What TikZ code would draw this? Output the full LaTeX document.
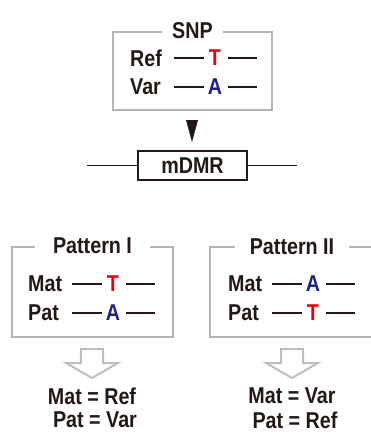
\documentclass[tikz,border=0pt]{standalone}
\usepackage{fontspec}
\setmainfont[FakeStretch=0.86]{Liberation Sans}
\definecolor{boxgray}{HTML}{B5B5B5}
\definecolor{arrowgray}{HTML}{BEBEBE}
\definecolor{ink}{HTML}{231815}
\definecolor{allelered}{HTML}{E60012}
\definecolor{alleleblue}{HTML}{1D2088}
\begin{document}
\begin{tikzpicture}[x=1bp,y=-1bp,
  every node/.style={font=\fontsize{23}{26}\selectfont\bfseries, inner sep=0pt, text=ink},
  graybox/.style={draw=boxgray, line width=2.4bp},
  boxtitle/.style={fill=white, inner xsep=#1, inner ysep=2bp},
  bondline/.style={draw=ink, line width=1.4bp},
  hollow/.style={draw=arrowgray, line width=2bp, line join=miter},
  refallele/.style={text=allelered},
  varallele/.style={text=alleleblue}
]
\useasboundingbox (0,0) rectangle (371,432);
\clip (0,0) rectangle (371,432);

% allele pair: letter node with a short bond on each side
\newcommand{\allelerow}[4]{%
  \node[#3] (#1) at #2 {#4};
  \draw[bondline] ([xshift=-41bp]#1.center) -- ([xshift=-11bp]#1.center);
  \draw[bondline] ([xshift=13bp]#1.center) -- ([xshift=42bp]#1.center);}

% ---- SNP box ----
\node[graybox, minimum width=159bp, minimum height=78bp] (snp) at (192.5,71) {};
\node[boxtitle=10bp] (snptitle) at (snp.north) {SNP};
\node[anchor=west] (reflab) at (130,58) {Ref};
\node[anchor=west] (varlab) at (130,87) {Var};
\allelerow{snpT}{(215,58)}{refallele}{T}
\allelerow{snpA}{(215,87)}{varallele}{A}

% ---- arrow into the region ----
\coordinate (tritop) at (192,120);
\fill[ink] ([xshift=-6bp]tritop) -- ([xshift=6bp]tritop) -- ([yshift=-22bp]tritop) -- cycle;

% ---- mDMR ----
\node[draw=ink, line width=1.2bp, minimum width=109bp, minimum height=29bp] (mdmr) at (192.5,165.5) {mDMR};
\coordinate (dnaL) at (87,165.5);
\coordinate (dnaR) at (297,165.5);
\draw[ink, line width=1.2bp] (mdmr.west) -- (dnaL);
\draw[ink, line width=1.2bp] (mdmr.east) -- (dnaR);

% ---- Pattern I ----
\node[graybox, minimum width=161bp, minimum height=90bp] (pat1) at (92.5,292) {};
\node[boxtitle=18bp] (pat1title) at (pat1.north) {Pattern I};
\node[anchor=west] (mat1) at (28,284) {Mat};
\node[anchor=west] (pa1) at (28,313) {Pat};
\allelerow{p1T}{(113,284)}{refallele}{T}
\allelerow{p1A}{(113,313)}{varallele}{A}

% ---- Pattern II (runs past the right edge) ----
\node[graybox, minimum width=190bp, minimum height=90bp] (pat2) at (305,292) {};
\node[boxtitle=14.5bp] (pat2title) at (292,247) {Pattern II};
\node[anchor=west] (mat2) at (228,284) {Mat};
\node[anchor=west] (pa2) at (228,313) {Pat};
\allelerow{p2A}{(313,284)}{varallele}{A}
\allelerow{p2T}{(313,313)}{refallele}{T}

% ---- hollow arrows ----
\foreach \cx/\nm in {92/h1, 292/h2} {
  \coordinate (\nm) at (\cx,349);
  \draw[hollow] ([xshift=-11bp]\nm) -- ([xshift=11bp]\nm) -- ([xshift=11bp,yshift=-14bp]\nm)
    -- ([xshift=26bp,yshift=-14bp]\nm) -- ([yshift=-29bp]\nm) -- ([xshift=-26bp,yshift=-14bp]\nm)
    -- ([xshift=-11bp,yshift=-14bp]\nm) -- cycle;
}

% ---- conclusions ----
\node (res1a) at (92,396) {Mat = Ref};
\node (res1b) at (95,420) {Pat = Var};
\node (res2a) at (292,396) {Mat = Var};
\node (res2b) at (295,420) {Pat = Ref};
\end{tikzpicture}
\end{document}
